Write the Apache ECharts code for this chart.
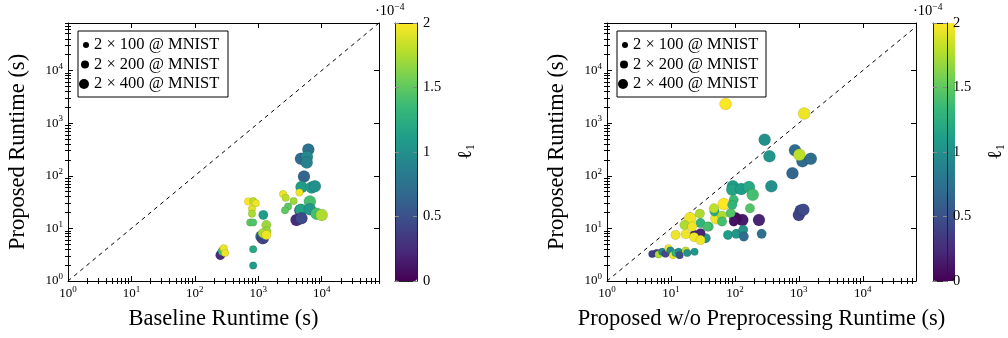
<!DOCTYPE html>
<html>
<head>
<meta charset="utf-8">
<script src="https://cdn.jsdelivr.net/npm/echarts@6/dist/echarts.min.js"></script>
<style>
  html, body { margin: 0; padding: 0; background: #fff; }
  #chart { width: 1008px; height: 338px; }
</style>
</head>
<body>
<div id="chart"></div>
<script>
// points are [runtime x (s), proposed runtime (s), l1 in units of 1e-4]
const baseline100 = [
  [2460, 45, 1.95], [2700, 38, 1.8], [4450, 48, 1.95], [3600, 33, 1.7], [2950, 26, 1.5],
  [2640, 22, 1.5], [690, 32.5, 2.0], [830, 33, 1.8], [910, 30, 1.95], [795, 23.5, 1.9],
  [795, 19, 1.75], [745, 13, 1.5], [830, 13, 1.45], [830, 4.0, 1.2], [830, 1.96, 1.1],
  [285, 4.2, 1.95], [300, 3.4, 1.95]
]
const baseline200 = [
  [1200, 18, 1.1], [1340, 11.6, 1.7], [1340, 8.7, 1.7], [1250, 7.5, 0.9], [1180, 8.1, 1.75],
  [1340, 7.5, 1.95], [265, 3.4, 0.4], [252, 3.1, 0.25], [275, 3.7, 1.4]
]
const baseline400 = [
  [6150, 314, 0.75], [4700, 210, 0.7], [5850, 228, 0.95], [5800, 179, 0.9], [5250, 97, 0.65],
  [4800, 61, 1.1], [6950, 60, 1.1], [7800, 63, 1.0], [6500, 32.5, 1.4], [4600, 22, 0.4],
  [4700, 22.5, 1.15], [6500, 23, 1.05], [8300, 19, 1.4], [10000, 18, 1.75], [4000, 14.5, 0.25],
  [4800, 15.6, 0.45], [1120, 7, 0.65], [1180, 6.5, 0.4]
]
const noPre100 = [
  [5.1, 3.27, 0.4], [6.0, 3.4, 0.35], [6.4, 3.2, 1.75], [7.3, 3.6, 0.9], [8.2, 3.3, 0.45],
  [9.1, 4.2, 1.95], [9.8, 3.8, 0.95], [10.8, 3.1, 1.95], [11.8, 3.4, 1.3], [13.2, 3.6, 1.0],
  [13.7, 3.1, 0.5], [17, 3.8, 1.8], [18, 3.4, 1.0], [23.4, 3.6, 1.05]
]
const noPre200 = [
  [172, 24, 1.45], [96, 35, 1.35], [91, 28, 1.3], [48, 21, 1.25], [47, 24, 1.8],
  [63, 17.3, 1.75], [86, 19.5, 1.45], [78, 7.5, 1.1], [105, 7.9, 1.05], [135, 9.4, 1.0],
  [138, 7.0, 0.7], [262, 7.9, 0.75], [28.3, 19, 1.75], [39, 10.8, 1.4], [29, 12.6, 1.3],
  [63, 13.5, 1.4], [96, 13.5, 0.1], [37, 10.8, 1.4], [35, 6.5, 1.05], [23.4, 7.5, 0.15],
  [29, 8.1, 0.2], [16.3, 11.6, 1.75], [21.5, 10.8, 1.95], [11.8, 7.5, 1.95], [17, 7.8, 1.95],
  [23, 6.8, 1.95], [29, 6.0, 1.95]
]
const noPre400 = [
  [71.5, 2320, 2.0], [1210, 1520, 1.95], [292, 485, 1.0], [347, 234, 1.05], [870, 304, 0.7],
  [1140, 188, 0.7], [1540, 210, 0.7], [795, 112, 0.65], [372, 63, 1.0], [93, 63, 1.1],
  [91, 54, 1.15], [126, 56, 1.1], [166, 61, 1.2], [190, 43.5, 1.4], [1070, 21.9, 0.45],
  [1000, 18, 0.4], [1180, 22.5, 0.45], [238, 14.5, 0.2], [131, 14.5, 0.15], [102, 15.6, 0.05],
  [67, 29, 2.0], [51.6, 15.6, 1.95], [20, 15.6, 1.95], [1020, 251, 1.8]
]
const seriesNames = ['2 × 100 @ MNIST', '2 × 200 @ MNIST', '2 × 400 @ MNIST']
const markerSizes = [7.5, 9.5, 12]
const legendSizes = [6, 8, 10]
const yMax = 80000
const leftXMax = 80000
const rightXMax = 68000
const colorMin = 0
const colorMax = 2

const viridis = ['#440154', '#482878', '#3e4989', '#31688e', '#26828e',
  '#1f9e89', '#35b779', '#6ece58', '#b5de2b', '#fde725']
const FONT = 'Liberation Serif'

// minor tick positions of a log axis (2..9 per decade), in log10 units
function minorTicks (max) {
  let out = []
  for (let p = 1; p <= max; p *= 10) {
    for (let k = 2; k <= 9; k++) {
      if (p * k <= max) out.push(Math.log10(p * k))
    }
  }
  return out
}

const supRich = {
  b: { fontFamily: FONT, fontSize: 13, lineHeight: 17, color: '#000' },
  sup: { fontFamily: FONT, fontSize: 9, lineHeight: 9, verticalAlign: 'top', color: '#000' }
}

function expLabel (v) {
  return '{b|10}{sup|' + Math.round(Math.log10(v)) + '}'
}

// per side: a labelled log axis and a plain linear one (log10 units) carrying minor ticks
function logAxes (gridIndex, max, isX, name, nameGap) {
  const sides = isX ? ['bottom', 'top'] : ['left', 'right']
  let axes = []
  sides.forEach((pos, i) => {
    axes.push({
      type: 'log',
      gridIndex: gridIndex,
      min: 1,
      max: max,
      position: pos,
      splitLine: { show: false },
      axisLine: { show: true, onZero: false, lineStyle: { color: '#000', width: 1 } },
      axisTick: { inside: true, length: 5, lineStyle: { color: '#000' } },
      axisLabel: i === 0
        ? { show: true, formatter: expLabel, rich: supRich, margin: isX ? 4 : 5, showMaxLabel: false }
        : { show: false },
      name: i === 0 ? name : '',
      nameLocation: 'middle',
      nameGap: nameGap,
      nameTextStyle: { fontFamily: FONT, fontSize: 22.5, color: '#000' }
    })
    axes.push({
      type: 'value',
      gridIndex: gridIndex,
      min: 0,
      max: Math.log10(max),
      position: pos,
      splitLine: { show: false },
      axisLine: { show: false },
      axisTick: { show: true, inside: true, length: 3, customValues: minorTicks(max), lineStyle: { color: '#000' } },
      axisLabel: { show: false }
    })
  })
  return axes
}

function colorbarAxes (gridIndex) {
  const tickStyle = { color: '#888', type: [4, 2], width: 1 }
  const edge = { show: true, onZero: false, lineStyle: { color: '#222' } }
  return {
    x: [
      { type: 'value', gridIndex: gridIndex, position: 'bottom', z: 10, axisLine: edge, axisTick: { show: false }, axisLabel: { show: false }, splitLine: { show: false } },
      { type: 'value', gridIndex: gridIndex, position: 'top', z: 10, axisLine: edge, axisTick: { show: false }, axisLabel: { show: false }, splitLine: { show: false } }
    ],
    y: [
      { type: 'value', gridIndex: gridIndex, position: 'left', min: colorMin, max: colorMax, interval: 0.5, z: 10,
        axisLine: edge,
        axisTick: { inside: true, length: 6, lineStyle: tickStyle },
        axisLabel: { show: false }, splitLine: { show: false } },
      { type: 'value', gridIndex: gridIndex, position: 'right', min: colorMin, max: colorMax, interval: 0.5, z: 10,
        axisLine: edge,
        axisTick: { inside: true, length: 6, lineStyle: tickStyle },
        axisLabel: { show: true, margin: 6, fontFamily: FONT, fontSize: 14.5, color: '#000' },
        splitLine: { show: false },
        name: '{l|ℓ}{sub|1}', nameLocation: 'middle', nameGap: 38, nameRotate: 90,
        nameTextStyle: {
          rich: {
            l: { fontFamily: FONT, fontSize: 20, lineHeight: 22, color: '#000' },
            sub: { fontFamily: FONT, fontSize: 12, lineHeight: 12, verticalAlign: 'bottom', color: '#000' }
          }
        } }
    ]
  }
}

const grids = [
  { left: 68, top: 23, width: 311, height: 258 },
  { left: 607, top: 23, width: 309, height: 258 },
  { left: 395, top: 23, width: 22, height: 258 },
  { left: 933, top: 23, width: 22, height: 258 }
]

const xAxes = [].concat(
  logAxes(0, leftXMax, true, 'Baseline Runtime (s)', 27),
  logAxes(1, rightXMax, true, 'Proposed w/o Preprocessing Runtime (s)', 27),
  colorbarAxes(2).x, colorbarAxes(3).x
)
const yAxes = [].concat(
  logAxes(0, yMax, false, 'Proposed Runtime (s)', 38),
  logAxes(1, yMax, false, 'Proposed Runtime (s)', 38),
  colorbarAxes(2).y, colorbarAxes(3).y
)

function scatter (name, data, size, axisIdx) {
  return {
    name: name,
    type: 'scatter',
    xAxisIndex: axisIdx,
    yAxisIndex: axisIdx,
    data: data,
    symbolSize: size,
    itemStyle: { color: '#000', opacity: 1, borderColor: 'rgba(0,0,0,0.18)', borderWidth: 0.6 },
    emphasis: { disabled: true }
  }
}

function diagonal (max, axisIdx) {
  return {
    type: 'line',
    xAxisIndex: axisIdx,
    yAxisIndex: axisIdx,
    data: [[1, 1], [max, max]],
    symbol: 'none',
    silent: true,
    lineStyle: { color: '#000', width: 1, type: [4, 4] },
    z: 1
  }
}

// main x / y axes are at index 0 (left plot) and 4 (right plot)
const series = [
  scatter(seriesNames[2], baseline400, markerSizes[2], 0),
  scatter(seriesNames[1], baseline200, markerSizes[1], 0),
  scatter(seriesNames[0], baseline100, markerSizes[0], 0),
  scatter(seriesNames[2], noPre400, markerSizes[2], 4),
  scatter(seriesNames[1], noPre200, markerSizes[1], 4),
  scatter(seriesNames[0], noPre100, markerSizes[0], 4),
  diagonal(leftXMax, 0),
  diagonal(rightXMax, 4)
]

function legends (textLeft, top0) {
  return seriesNames.map((n, i) => ({
    data: [n],
    left: textLeft - 5 - legendSizes[i],
    top: top0 + i * 19.5,
    icon: 'circle',
    itemWidth: legendSizes[i],
    itemHeight: legendSizes[i],
    itemStyle: { color: '#000', borderWidth: 0 },
    selectedMode: false,
    padding: 0,
    textStyle: { fontFamily: FONT, fontSize: 16.5, lineHeight: 18, color: '#000' }
  }))
}

function vmap (left, seriesIndex) {
  return {
    type: 'continuous',
    min: colorMin,
    max: colorMax,
    dimension: 2,
    seriesIndex: seriesIndex,
    inRange: { color: viridis },
    orient: 'vertical',
    left: left,
    top: 23,
    itemWidth: 22,
    itemHeight: 258,
    padding: 0,
    calculable: false,
    hoverLink: false,
    text: null
  }
}

function expTitle (left) {
  return {
    text: '·10{sup|−4}',
    left: left,
    top: 2,
    padding: 0,
    textStyle: {
      rich: {
        sup: { fontFamily: FONT, fontSize: 9.5, lineHeight: 9, verticalAlign: 'top', color: '#000' }
      },
      fontFamily: FONT, fontSize: 14.5, lineHeight: 18, fontWeight: 'normal', color: '#000'
    }
  }
}

const option = {
  animation: false,
  backgroundColor: '#fff',
  title: [expTitle(375), expTitle(913)],
  grid: grids,
  xAxis: xAxes,
  yAxis: yAxes,
  visualMap: [vmap(395, [0, 1, 2]), vmap(933, [3, 4, 5])],
  legend: legends(94, 36).concat(legends(633, 36)),
  graphic: [
    { type: 'rect', shape: { x: 78, y: 31, width: 150, height: 66 }, style: { fill: '#fff', stroke: '#000', lineWidth: 1 }, z: 3 },
    { type: 'rect', shape: { x: 617, y: 31, width: 149, height: 66 }, style: { fill: '#fff', stroke: '#000', lineWidth: 1 }, z: 3 }
  ],
  series: series
}

const myChart = echarts.init(document.getElementById('chart'))
myChart.setOption(option)
</script>
</body>
</html>
